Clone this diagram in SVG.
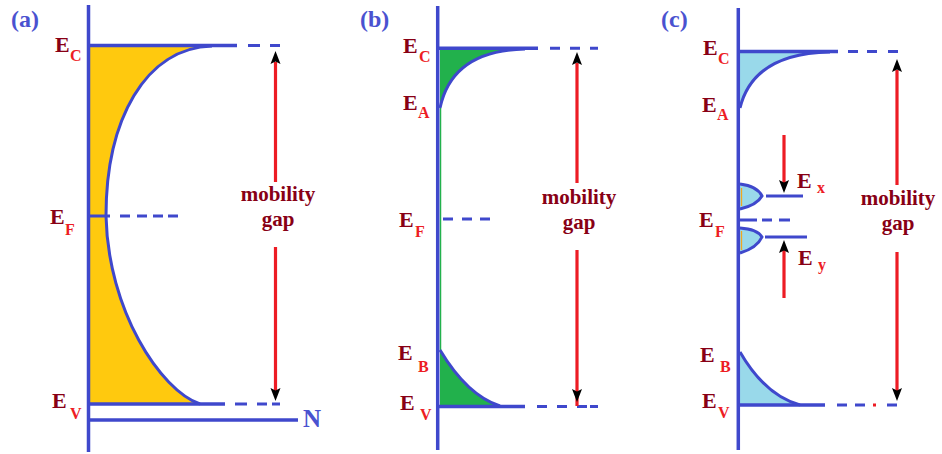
<svg xmlns="http://www.w3.org/2000/svg" xmlns:xlink="http://www.w3.org/1999/xlink" width="942" height="454" viewBox="0 0 942 454">
<style>
.ax{stroke:#3F48CC;stroke-width:3.5;fill:none}
.ln{stroke:#3F48CC;stroke-width:3.5;fill:none}
.ds{stroke:#3F48CC;stroke-width:3;fill:none}
.cv{stroke:#3F48CC;stroke-width:3;fill:none}
.lobe{stroke:#3F48CC;stroke-width:3;fill:#99D9EA}
.ar{stroke:#ED1C24;stroke-width:3.2;fill:none}
.E{font-family:"Liberation Serif",serif;font-weight:bold;font-size:22px;fill:#880015}
.s{font-family:"Liberation Serif",serif;font-weight:bold;font-size:16px;fill:#ED1C24}
.mg{font-family:"Liberation Serif",serif;font-weight:bold;font-size:21px;fill:#880015;text-anchor:middle}
.pl{font-family:"Liberation Serif",serif;font-weight:bold;font-size:24px;fill:#4A52D0}
</style>
<defs>
<path id="up" d="M0,0 L5,13 L0,10.5 L-5,13 Z" fill="#000"/>
<path id="dn" d="M0,0 L5,-13 L0,-10.5 L-5,-13 Z" fill="#000"/>
</defs>

<g id="panel-a">
<text class="pl" x="11" y="27">(a)</text>
<path d="M90,46 L212,46 C145,48 106,120 106,216 C108,310 160,390 200,404 L90,404 Z" fill="#FFC90E"/>
<path class="cv" d="M212,46 C145,48 106,120 106,216 C108,310 160,390 200,404"/>
<line class="ax" x1="88.5" y1="5" x2="88.5" y2="452"/>
<line class="ln" x1="88" y1="45.5" x2="237" y2="45.5"/>
<path class="ds" d="M248,45.5 H260 M270,45.5 H280"/>
<path class="ds" d="M88,216 H110 M120,216 H130 M137,216 H147 M153,216 H163 M168,216 H178"/>
<line class="ln" x1="88" y1="404" x2="225" y2="404"/>
<path class="ds" d="M235,404 H247 M257,404 H267 M272,404 H280"/>
<line class="ax" x1="88" y1="420" x2="298" y2="420"/>
<text class="pl" x="303" y="427" style="font-size:25px">N</text>
<text class="E" x="55" y="52">E</text><text class="s" x="70" y="61">C</text>
<text class="E" x="50" y="224">E</text><text class="s" x="65" y="235">F</text>
<text class="E" x="52" y="408">E</text><text class="s" x="70" y="419">V</text>
<text class="mg" x="278" y="201">mobility</text>
<text class="mg" x="278" y="226">gap</text>
</g>

<g id="panel-b">
<text class="pl" x="360" y="27">(b)</text>
<path d="M440,49 L525,49 C475,50 448,70 440,108 Z" fill="#22B14C"/>
<path d="M440,350 C455,375 475,398 500,406 L440,406 Z" fill="#22B14C"/>
<line x1="440.5" y1="108" x2="440.5" y2="350" stroke="#22B14C" stroke-width="1.5"/>
<path class="cv" d="M440,108 C448,70 475,50 525,49"/>
<path class="cv" d="M440,350 C455,375 475,398 500,406"/>
<line class="ax" x1="437.7" y1="6" x2="437.7" y2="450"/>
<line class="ln" x1="437" y1="48.3" x2="538" y2="48.3"/>
<path class="ds" d="M550,48.3 H560 M570,48.3 H580 M590,48.3 H598"/>
<path class="ds" d="M443,219 H453 M462,219 H472 M480,219 H490"/>
<line class="ln" x1="437" y1="406.5" x2="525" y2="406.5"/>
<path class="ds" d="M537,406.5 H547 M557,406.5 H567 M577,406.5 H587 M590,406.5 H598"/>
<text class="E" x="403" y="53">E</text><text class="s" x="419" y="62">C</text>
<text class="E" x="403" y="110">E</text><text class="s" x="418" y="118">A</text>
<text class="E" x="399" y="227">E</text><text class="s" x="415" y="237">F</text>
<text class="E" x="398" y="360">E</text><text class="s" x="418" y="372">B</text>
<text class="E" x="400" y="410">E</text><text class="s" x="420" y="420">V</text>
<text class="mg" x="579" y="204">mobility</text>
<text class="mg" x="579" y="229">gap</text>
</g>

<g id="panel-c">
<text class="pl" x="661" y="27">(c)</text>
<path d="M740,52 L830,52 C775,53 748,75 740,108 Z" fill="#99D9EA"/>
<path d="M740,352 C755,378 775,398 800,405 L740,405 Z" fill="#99D9EA"/>
<path class="lobe" d="M740,184 Q757,186 762,196 Q757,205 740,209"/>
<path class="lobe" d="M740,228 Q757,229 762,237 Q757,248 740,253"/>
<line x1="741.5" y1="188" x2="741.5" y2="206" stroke="#F0A820" stroke-width="1.3"/>
<line x1="741.5" y1="231" x2="741.5" y2="250" stroke="#F0A820" stroke-width="1.3"/>
<path class="cv" d="M740,108 C748,75 775,53 830,52"/>
<path class="cv" d="M740,352 C755,378 775,398 800,405"/>
<line class="ax" x1="738.3" y1="8" x2="738.3" y2="450"/>
<line class="ln" x1="738" y1="51.5" x2="838" y2="51.5"/>
<path class="ds" d="M848,51.5 H858 M867,51.5 H877 M888,51.5 H898"/>
<path class="ds" d="M740,220 H757 M762,220 H772 M779,220 H790"/>
<line class="ds" x1="766" y1="196" x2="803" y2="196"/>
<line class="ds" x1="765" y1="237" x2="807" y2="237"/>
<line class="ln" x1="738" y1="405" x2="825" y2="405"/>
<path class="ds" d="M837,405 H847 M855,405 H865 M887,405 H897"/>
<rect x="873" y="403.5" width="3" height="3" fill="#ED1C24"/>
<text class="E" x="703" y="55">E</text><text class="s" x="718" y="64">C</text>
<text class="E" x="702" y="112">E</text><text class="s" x="717" y="120">A</text>
<text class="E" x="699" y="227">E</text><text class="s" x="715" y="237">F</text>
<text class="E" x="700" y="362">E</text><text class="s" x="720" y="372">B</text>
<text class="E" x="702" y="408">E</text><text class="s" x="718" y="418">V</text>
<text class="E" x="797" y="188">E</text><text class="s" x="817" y="193">x</text>
<text class="E" x="798" y="265">E</text><text class="s" x="818" y="270">y</text>
<text class="mg" x="898" y="205">mobility</text>
<text class="mg" x="898" y="230">gap</text>
</g>

<g id="connectors">
<line class="ar" x1="275.5" y1="62" x2="275.5" y2="182"/>
<line class="ar" x1="275.5" y1="247" x2="275.5" y2="391"/>
<use xlink:href="#up" x="275.5" y="51"/>
<use xlink:href="#dn" x="275.5" y="401"/>
<line class="ar" x1="577" y1="63" x2="577" y2="183"/>
<line class="ar" x1="577" y1="250" x2="577" y2="406"/>
<use xlink:href="#up" x="577" y="52"/>
<use xlink:href="#dn" x="577" y="402"/>
<line class="ar" x1="897" y1="70" x2="897" y2="185"/>
<line class="ar" x1="897" y1="252" x2="897" y2="391"/>
<use xlink:href="#up" x="897" y="59"/>
<use xlink:href="#dn" x="897" y="401"/>
<line class="ar" x1="784" y1="135" x2="784" y2="184"/>
<use xlink:href="#dn" x="784" y="193"/>
<line class="ar" x1="784" y1="298" x2="784" y2="249"/>
<use xlink:href="#up" x="784" y="240"/>
</g>
</svg>
